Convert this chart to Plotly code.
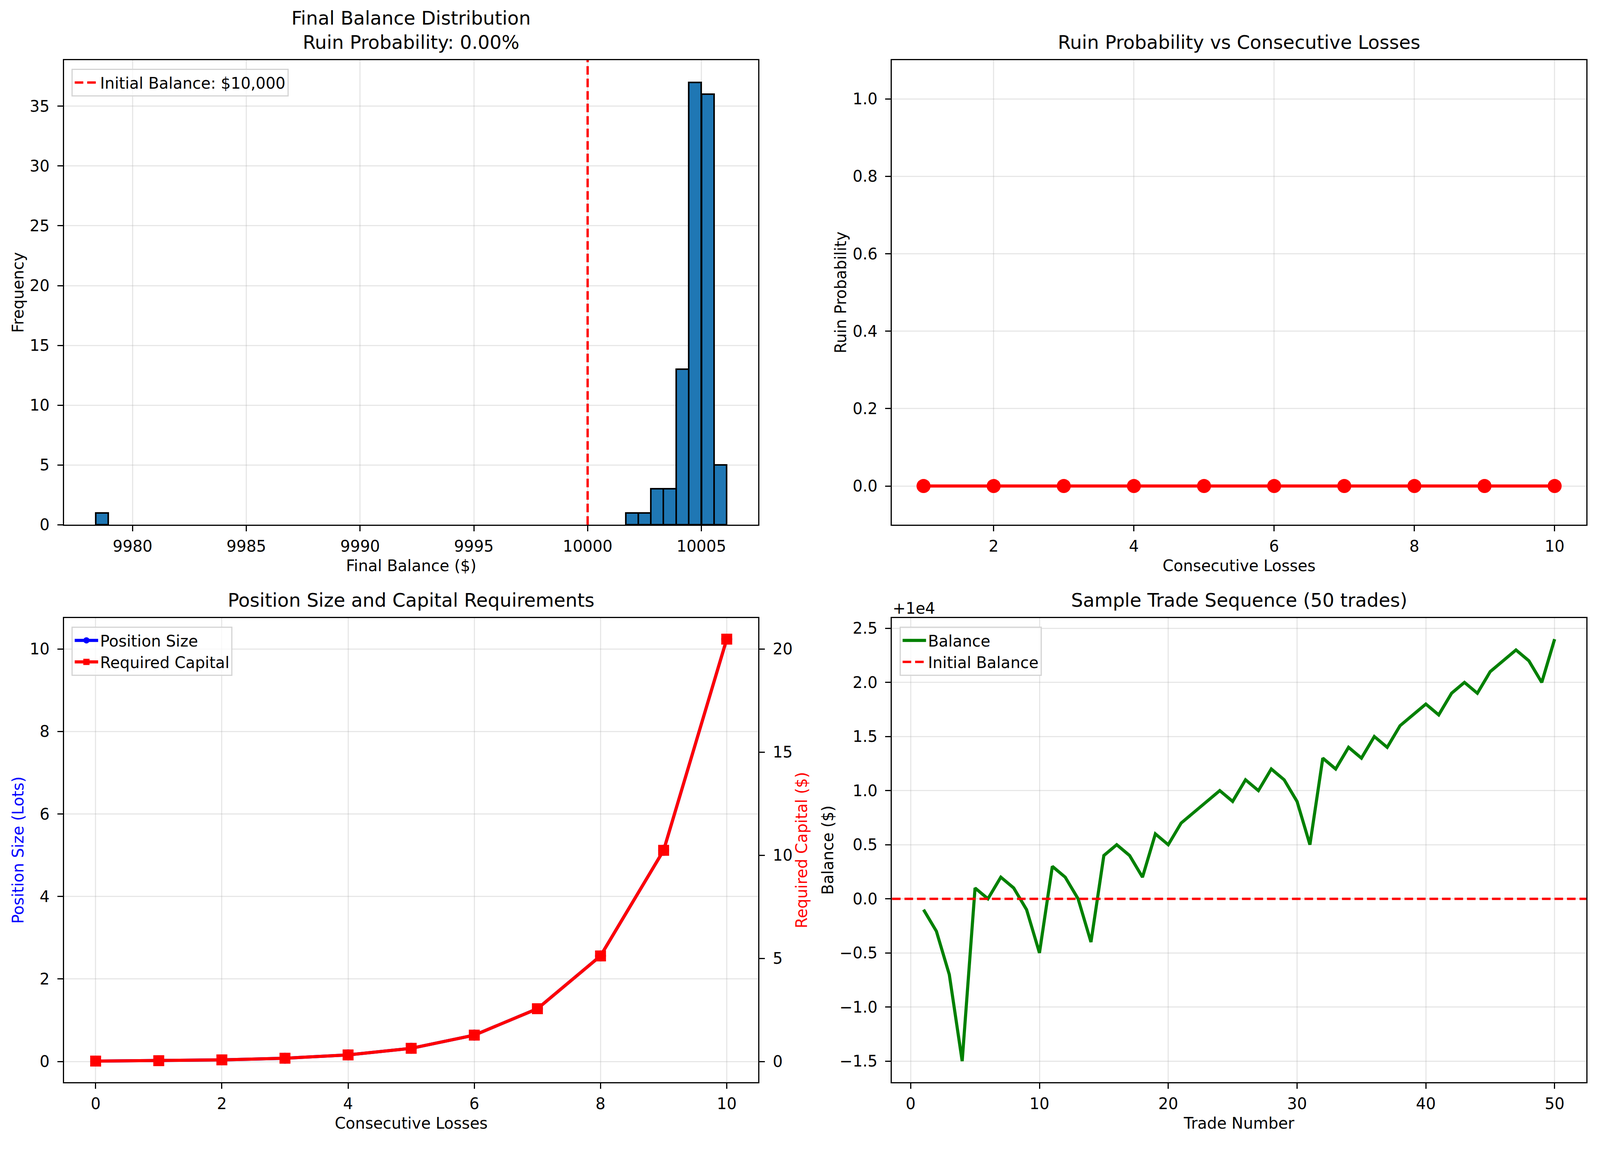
import plotly.graph_objects as go

# ---- data ----
# histogram of final balances (50 bins between min and max, only non-empty bins listed)
bin_width = 0.5546
bin_left = [9978.38, 10001.67, 10002.22, 10002.78, 10003.33, 10003.89, 10004.44, 10005.00, 10005.55]
bin_count = [1, 1, 1, 3, 3, 13, 37, 36, 5]
initial_balance = 10000

# ruin probability vs consecutive losses
loss_streak = [1, 2, 3, 4, 5, 6, 7, 8, 9, 10]
ruin_prob = [0, 0, 0, 0, 0, 0, 0, 0, 0, 0]

# position size and capital requirements
losses = [0, 1, 2, 3, 4, 5, 6, 7, 8, 9, 10]
position_size = [0.01, 0.02, 0.04, 0.08, 0.16, 0.32, 0.64, 1.28, 2.56, 5.12, 10.24]
required_capital = [0.02, 0.04, 0.08, 0.16, 0.32, 0.64, 1.28, 2.56, 5.12, 10.24, 20.48]

# sample trade sequence (50 trades)
trade_no = list(range(1, 51))
balance = [9999.9, 9999.7, 9999.3, 9998.5, 10000.1, 10000.0, 10000.2, 10000.1, 9999.9, 9999.5,
           10000.3, 10000.2, 10000.0, 9999.6, 10000.4, 10000.5, 10000.4, 10000.2, 10000.6, 10000.5,
           10000.7, 10000.8, 10000.9, 10001.0, 10000.9, 10001.1, 10001.0, 10001.2, 10001.1, 10000.9,
           10000.5, 10001.3, 10001.2, 10001.4, 10001.3, 10001.5, 10001.4, 10001.6, 10001.7, 10001.8,
           10001.7, 10001.9, 10002.0, 10001.9, 10002.1, 10002.2, 10002.3, 10002.2, 10002.0, 10002.4]
balance_ticks = [-1.5, -1.0, -0.5, 0.0, 0.5, 1.0, 1.5, 2.0, 2.5]

# ---- styling ----
# the browser viewport is 4096 wide, so the figure is drawn to fit it (8px body margin)
FW, FH = 4080, 2943
W, H = 4470, 2959     # reference pixel grid used to place things as fractions
FONT = "DejaVu Sans"
FS = 40
TFS = 48
GRID = "rgba(176,176,176,0.3)"

xl = [171 / W, 2118 / W]
xr = [2493 / W, 4440 / W]
yt = [1 - 1353 / H, 1 - 148 / H]
yb = [1 - 2799 / H, 1 - 1595 / H]


def ax(**kw):
    d = dict(showline=True, linecolor="black", linewidth=3.2, mirror=True,
             ticks="outside", ticklen=14, tickwidth=3.2, tickcolor="black",
             showgrid=True, gridcolor=GRID, gridwidth=3.2,
             zeroline=False, tickfont=dict(family=FONT, size=FS, color="black"))
    d.update(kw)
    return d


def xax(**kw):
    return ax(ticklabelstandoff=4, **kw)


def yax(**kw):
    return ax(ticklabelstandoff=12, **kw)


fig = go.Figure()

# top-left histogram
fig.add_trace(go.Bar(
    x=[b + bin_width / 2 for b in bin_left], y=bin_count, width=bin_width,
    marker=dict(color="#1f77b4", line=dict(color="black", width=4)),
    showlegend=False, xaxis="x", yaxis="y"))
fig.add_shape(type="line", xref="x", yref="y domain", x0=initial_balance, x1=initial_balance,
              y0=0, y1=1, line=dict(color="red", width=6, dash="22px,10px"),
              showlegend=True, name="Initial Balance: $10,000", legend="legend")

# top-right ruin probability
fig.add_trace(go.Scatter(
    x=loss_streak, y=ruin_prob, mode="lines+markers",
    line=dict(color="red", width=8), marker=dict(color="red", size=36, symbol="circle"),
    showlegend=False, xaxis="x2", yaxis="y2"))

# bottom-left position size / required capital
fig.add_trace(go.Scatter(
    x=losses, y=position_size, mode="lines+markers", name="Position Size",
    line=dict(color="blue", width=8), marker=dict(color="blue", size=28, symbol="circle"),
    xaxis="x3", yaxis="y3", legend="legend2"))
fig.add_trace(go.Scatter(
    x=losses, y=required_capital, mode="lines+markers", name="Required Capital",
    line=dict(color="red", width=8), marker=dict(color="red", size=28, symbol="square"),
    xaxis="x3", yaxis="y5", legend="legend2"))

# bottom-right trade sequence
fig.add_trace(go.Scatter(
    x=trade_no, y=balance, mode="lines", name="Balance",
    line=dict(color="green", width=8), xaxis="x4", yaxis="y4", legend="legend3"))
fig.add_shape(type="line", xref="x4 domain", yref="y4", x0=0, x1=1,
              y0=initial_balance, y1=initial_balance,
              line=dict(color="red", width=6, dash="22px,10px"),
              showlegend=True, name="Initial Balance", legend="legend3")

title_font = dict(family=FONT, size=FS, color="black")
leg = dict(bgcolor="rgba(255,255,255,0.8)", bordercolor="#d4d4d4", borderwidth=3,
           font=dict(family=FONT, size=FS, color="black"), xanchor="left", yanchor="top",
           tracegroupgap=0, itemwidth=60)

fig.update_layout(
    width=FW, height=FH, margin=dict(l=0, r=0, t=0, b=0),
    plot_bgcolor="white", paper_bgcolor="white",
    font=dict(family=FONT, size=FS, color="black"),
    bargap=0,
    xaxis=xax(domain=xl, anchor="y", range=[9976.99, 10007.5],
              tickvals=[9980, 9985, 9990, 9995, 10000, 10005], tickformat="d",
              title=dict(text="Final Balance ($)", font=title_font, standoff=14)),
    yaxis=yax(domain=yt, anchor="x", range=[0, 38.85], tickvals=[0, 5, 10, 15, 20, 25, 30, 35],
              title=dict(text="Frequency", font=title_font, standoff=4)),
    xaxis2=xax(domain=xr, anchor="y2", range=[0.55, 10.45], tickvals=[2, 4, 6, 8, 10],
               title=dict(text="Consecutive Losses", font=title_font, standoff=14)),
    yaxis2=yax(domain=yt, anchor="x2", range=[-0.1, 1.1],
               tickvals=[0, 0.2, 0.4, 0.6, 0.8, 1.0], tickformat=".1f",
               title=dict(text="Ruin Probability", font=title_font, standoff=4)),
    xaxis3=xax(domain=xl, anchor="y3", range=[-0.5, 10.5], tickvals=[0, 2, 4, 6, 8, 10],
               title=dict(text="Consecutive Losses", font=title_font, standoff=14)),
    yaxis3=yax(domain=yb, anchor="x3", range=[-0.5015, 10.7515], tickvals=[0, 2, 4, 6, 8, 10],
               mirror=False,
               title=dict(text="Position Size (Lots)", font=dict(family=FONT, size=FS, color="blue"),
                          standoff=4)),
    yaxis5=yax(overlaying="y3", side="right", anchor="x3", range=[-1.003, 21.503],
               tickvals=[0, 5, 10, 15, 20], showgrid=False, mirror=False,
               title=dict(text="Required Capital ($)", font=dict(family=FONT, size=FS, color="red"),
                          standoff=8)),
    xaxis4=xax(domain=xr, anchor="y4", range=[-1.45, 52.45], tickvals=[0, 10, 20, 30, 40, 50],
               title=dict(text="Trade Number", font=title_font, standoff=14)),
    yaxis4=yax(domain=yb, anchor="x4", range=[initial_balance - 1.695, initial_balance + 2.595],
               tickvals=[initial_balance + t for t in balance_ticks],
               ticktext=[f"{t:.1f}".replace("-", "\u2212") for t in balance_ticks],
               title=dict(text="Balance ($)", font=title_font, standoff=4)),
    legend=dict(leg, x=192 / W, y=1 - 170 / H),
    legend2=dict(leg, x=192 / W, y=1 - 1617 / H),
    legend3=dict(leg, x=2514 / W, y=1 - 1617 / H),
)

# subplot titles (matplotlib style, placed just above each axes box)
titles = [
    ((xl[0] + xl[1]) / 2, yt[1], "Final Balance Distribution<br>Ruin Probability: 0.00%"),
    ((xr[0] + xr[1]) / 2, yt[1], "Ruin Probability vs Consecutive Losses"),
    ((xl[0] + xl[1]) / 2, yb[1], "Position Size and Capital Requirements"),
    ((xr[0] + xr[1]) / 2, yb[1], "Sample Trade Sequence (50 trades)"),
]
for x, y, txt in titles:
    fig.add_annotation(x=x, y=y, xref="paper", yref="paper", text=txt, showarrow=False,
                       xanchor="center", yanchor="bottom", yshift=16,
                       font=dict(family=FONT, size=TFS, color="black"))

# offset text of the balance axis
fig.add_annotation(x=xr[0], y=yb[1], xref="paper", yref="paper", text="+1e4", showarrow=False,
                   xanchor="left", yanchor="bottom", yshift=0,
                   font=dict(family=FONT, size=FS, color="black"))

fig.write_html("out.html")
